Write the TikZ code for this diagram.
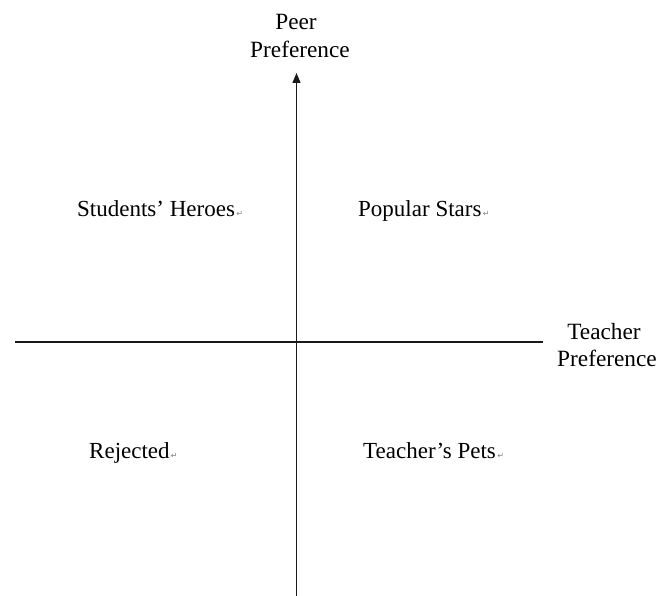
\documentclass[tikz,border=0pt]{standalone}
\usepackage{fontspec}
\setmainfont{Liberation Serif}
\newfontfamily\symfont{DejaVu Sans}
\usetikzlibrary{arrows.meta}
% small grey paragraph mark after each quadrant label
\newcommand\retmark{{\symfont\fontsize{8}{8}\selectfont\color{gray}\,↵}}
\begin{document}
\begin{tikzpicture}[x=1pt,y=-1pt,
  lbl/.style={inner sep=0pt, anchor=base, font=\fontsize{23.3}{27}\selectfont},
  qlbl/.style={inner sep=0pt, anchor=base west, font=\fontsize{23}{27}\selectfont},
  axis/.style={line width=1.4pt, draw=black!90}]
\useasboundingbox (0,0) rectangle (658,596);

% axes
\coordinate (vtop) at (296.5,73);
\coordinate (vbot) at (296.5,596);
\coordinate (hl) at (15,342);
\coordinate (hr) at (543,342);
\draw[axis, -{Triangle[length=10pt,width=8pt]}] (vbot) -- (vtop);
\draw[axis] (hl) -- (hr);

% axis titles
\node[lbl] (peer) at (296,30) {Peer};
\node[lbl] (peerpref) at (300,58) {Preference};
\node[lbl] (teacher) at (604,339) {Teacher};
\node[lbl] (teachpref) at (607,366) {Preference};

% quadrant labels
\node[qlbl] (heroes) at (77,216) {Students’ Heroes\retmark};
\node[qlbl] (stars) at (358,216) {Popular Stars\retmark};
\node[qlbl] (rejected) at (89,458) {Rejected\retmark};
\node[qlbl] (pets) at (363,458) {Teacher’s Pets\retmark};
\end{tikzpicture}
\end{document}
